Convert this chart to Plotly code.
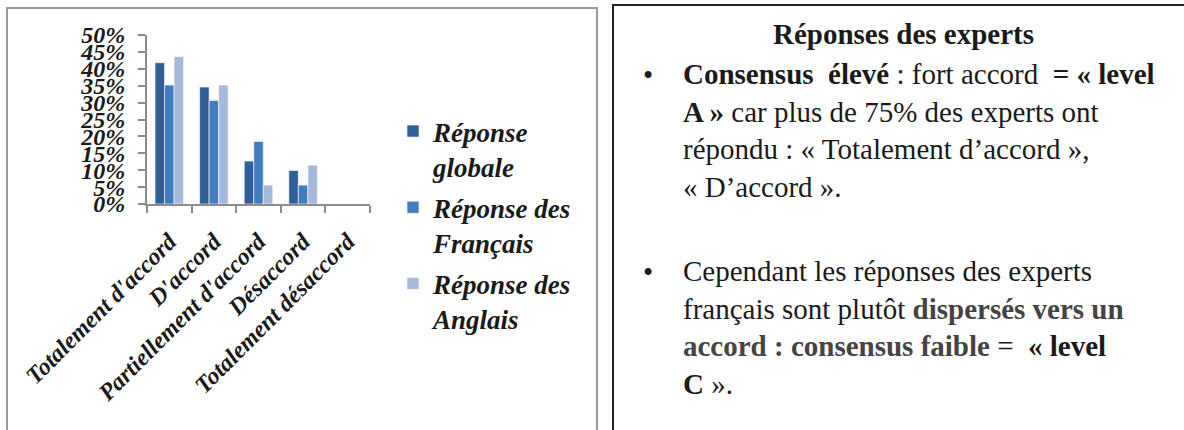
import plotly.graph_objects as go

# categories and series (percent of experts)
categories = ["Totalement d'accord", "D'accord", "Partiellement d'accord",
              "Désaccord", "Totalement désaccord"]
series_names = ["Réponse<br>globale", "Réponse des<br>Français", "Réponse des<br>Anglais"]
globale = [41.8, 34.6, 12.7, 9.9, 0]
francais = [35.2, 30.6, 18.5, 5.6, 0]
anglais = [43.6, 35.2, 5.6, 11.5, 0]
colors = ["#2F5F98", "#3F7CC0", "#A7B9DA"]

W, H = 1184, 430
serif = "Liberation Serif"

fig = go.Figure()
for i, (name, vals) in enumerate(zip(series_names, [globale, francais, anglais])):
    fig.add_trace(go.Bar(
        x=categories, y=vals, name=name, legendgroup=str(i),
        marker=dict(color=colors[i], line=dict(width=0.6, color="white")),
    ))

fig.update_layout(
    width=W, height=H,
    margin=dict(l=0, r=0, t=0, b=0, autoexpand=False),
    paper_bgcolor="white", plot_bgcolor="white",
    barmode="group", bargap=0.36, bargroupgap=0,
    showlegend=True,
    font=dict(family=serif),
    legend=dict(
        x=393 / W, y=1 - 107 / H, xanchor="left", yanchor="top",
        font=dict(family=serif, size=27, color="#1a1a1a", weight="bold", style="italic"),
        valign="top", tracegroupgap=3, bgcolor="rgba(0,0,0,0)",
    ),
)

fig.update_xaxes(
    domain=[147 / W, 370 / W], type="category", automargin=False,
    showline=True, linecolor="#8c8c8c", linewidth=2,
    ticks="outside", tickson="boundaries", ticklen=7, tickcolor="#8c8c8c", tickwidth=2,
    tickangle=-45, showgrid=False, ticklabelstandoff=12,
    tickfont=dict(family=serif, size=24, color="#1a1a1a", weight="bold", style="italic"),
)
fig.update_yaxes(
    domain=[(H - 204) / H, (H - 35) / H], range=[0, 50], dtick=5, ticksuffix="%",
    automargin=False,
    showline=True, linecolor="#8c8c8c", linewidth=2,
    ticks="outside", ticklen=7, tickcolor="#8c8c8c", tickwidth=2,
    showgrid=False, zeroline=False, ticklabelstandoff=8,
    tickfont=dict(family=serif, size=24, color="#1a1a1a", weight="bold", style="italic"),
)

# frames around chart and text panel
fig.add_shape(type="rect", xref="paper", yref="paper",
              x0=7 / W, x1=597 / W, y0=-0.05, y1=1 - 8 / H,
              line=dict(color="#9a9a9a", width=2), fillcolor="rgba(0,0,0,0)")
fig.add_shape(type="rect", xref="paper", yref="paper",
              x0=613 / W, x1=1.05, y0=-0.05, y1=1 - 5 / H,
              line=dict(color="#222222", width=2), fillcolor="rgba(0,0,0,0)")

txt = dict(family=serif, size=29, color="#1a1a1a")
fig.add_annotation(text="<b>Réponses des experts</b>", xref="paper", yref="paper",
                   x=903 / W, y=1 - 34 / H, xanchor="center", yanchor="middle",
                   showarrow=False, font=txt)

para1 = ("<b>Consensus  élevé</b> : fort accord  <b>= « level</b><br>"
         "<b>A »</b> car plus de 75% des experts ont<br>"
         "répondu : « Totalement d’accord »,<br>"
         "« D’accord ».")
para2 = ("Cependant les réponses des experts<br>"
         "français sont plutôt <b><span style='color:#444444'>dispersés vers un</span></b><br>"
         "<b><span style='color:#444444'>accord : consensus faible</span></b> =  <b>« level</b><br>"
         "<b>C</b> ».")
for y_top, para in [(56, para1), (253, para2)]:
    fig.add_annotation(text=para, xref="paper", yref="paper",
                       x=681 / W, y=1 - y_top / H, xanchor="left", yanchor="top",
                       align="left", showarrow=False, font=txt)
    fig.add_annotation(text="•", xref="paper", yref="paper",
                       x=648 / W, y=1 - (y_top + 19) / H, xanchor="center", yanchor="middle",
                       showarrow=False, font=txt)

fig.write_html("out.html", config={"displayModeBar": False},
               post_script="document.body.style.margin='0';")
